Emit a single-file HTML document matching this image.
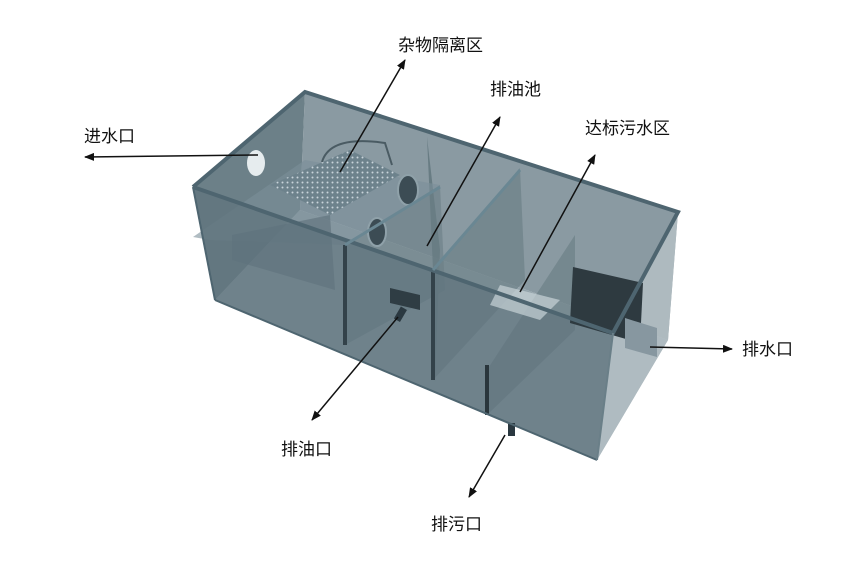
<!DOCTYPE html>
<html><head><meta charset="utf-8"><style>
html,body{margin:0;padding:0;background:#fff;}
svg{display:block}
text{font-family:"Liberation Sans","Noto Sans CJK SC",sans-serif;font-size:17px;fill:#111}
</style></head><body>
<svg width="850" height="562" viewBox="0 0 850 562" xmlns="http://www.w3.org/2000/svg">
<defs>
<marker id="ar" markerWidth="10" markerHeight="8" refX="9" refY="4" orient="auto" markerUnits="userSpaceOnUse">
<path d="M0,0 L10,4 L0,8 Z" fill="#111"/></marker>
<pattern id="dots" width="5" height="5" patternUnits="userSpaceOnUse"><rect width="5" height="5" fill="#6d828c"/><circle cx="2.5" cy="2.5" r="1" fill="#c8d4da"/></pattern>
</defs>
<polygon points="305,92 678,212 668,340 300,210" fill="#8a9aa2"/>
<polygon points="300,210 668,340 597,460 215,300" fill="#93a3ab"/>
<polygon points="305,92 193,187 215,300 300,210" fill="#6c8088"/>
<polygon points="427,137 433,270 435,382 440,250" fill="#5f747c" opacity="0.8"/>
<polygon points="520,168 525,280 433,380 433,270" fill="#6c8088" opacity="0.7"/>
<polygon points="575,235 575,330 487,415 487,370" fill="#6c8088" opacity="0.7"/>
<polygon points="345,245 440,185 445,290 345,345" fill="#6a7e86" opacity="0.6"/>
<polygon points="193,237 305,160 440,185 345,245 210,240" fill="#7b9099" opacity="0.6"/>
<polygon points="270,185 350,150 400,175 330,215" fill="url(#dots)"/>
<polygon points="232,235 330,215 335,290 232,260" fill="#5d7079" opacity="0.6"/>
<path d="M322,162 Q330,135 385,143 L392,165" stroke="#4a5b63" stroke-width="2" fill="none"/>
<ellipse cx="408" cy="190" rx="10" ry="15" fill="#3c4c54" stroke="#8fa1a9" stroke-width="2"/>
<ellipse cx="377" cy="232" rx="9" ry="14" fill="#3c4c54" stroke="#8fa1a9" stroke-width="2"/>
<ellipse cx="256" cy="163" rx="9" ry="13" fill="#e6ecee"/>
<polygon points="193,187 613,333 597,460 215,300" fill="#5f747d" opacity="0.7"/>
<polygon points="678,212 613,333 597,460 668,340" fill="#b4bfc4" opacity="0.85"/>
<polygon points="500,285 560,300 540,320 490,305" fill="#c8d3d7" opacity="0.7"/>
<rect x="343" y="245" width="4" height="100" fill="#33424a"/>
<rect x="431" y="272" width="4" height="108" fill="#33424a"/>
<rect x="485" y="365" width="4" height="50" fill="#2a363c"/>
<polygon points="390,288 420,295 420,310 390,303" fill="#2f3d44"/>
<rect x="397" y="307" width="7" height="14" fill="#2a3840" transform="rotate(30 400 314)"/>
<rect x="508" y="423" width="7" height="13" fill="#2a3840"/>
<polygon points="573,267 643,283 640,343 570,323" fill="#2e3a40"/>
<polygon points="625,318 657,328 657,357 625,348" fill="#8797a0"/>
<polyline points="193,187 305,92 678,212 613,333 193,187" fill="none" stroke="#4e6570" stroke-width="4"/>
<line x1="345" y1="245" x2="440" y2="187" stroke="#6a8793" stroke-width="3"/>
<line x1="433" y1="270" x2="520" y2="170" stroke="#6a8793" stroke-width="3"/>
<line x1="193" y1="187" x2="215" y2="300" stroke="#4e6570" stroke-width="2"/>
<line x1="215" y1="300" x2="597" y2="460" stroke="#4e6570" stroke-width="2"/>
<line x1="613" y1="333" x2="597" y2="460" stroke="#6a7f88" stroke-width="2"/>
<g stroke="#111" stroke-width="1.5" fill="none">
<line x1="340" y1="172" x2="405" y2="60" marker-end="url(#ar)"/>
<line x1="427" y1="246" x2="500" y2="117" marker-end="url(#ar)"/>
<line x1="520" y1="292" x2="595" y2="155" marker-end="url(#ar)"/>
<line x1="258" y1="155" x2="85" y2="157" marker-end="url(#ar)"/>
<line x1="650" y1="347" x2="732" y2="349" marker-end="url(#ar)"/>
<line x1="398" y1="317" x2="312" y2="420" marker-end="url(#ar)"/>
<line x1="505" y1="435" x2="469" y2="497" marker-end="url(#ar)"/>
</g>
<text x="398" y="51">杂物隔离区</text>
<text x="490" y="95">排油池</text>
<text x="585" y="134">达标污水区</text>
<text x="84" y="142">进水口</text>
<text x="742" y="355">排水口</text>
<text x="281" y="455">排油口</text>
<text x="431" y="530">排污口</text>
</svg>
</body></html>
